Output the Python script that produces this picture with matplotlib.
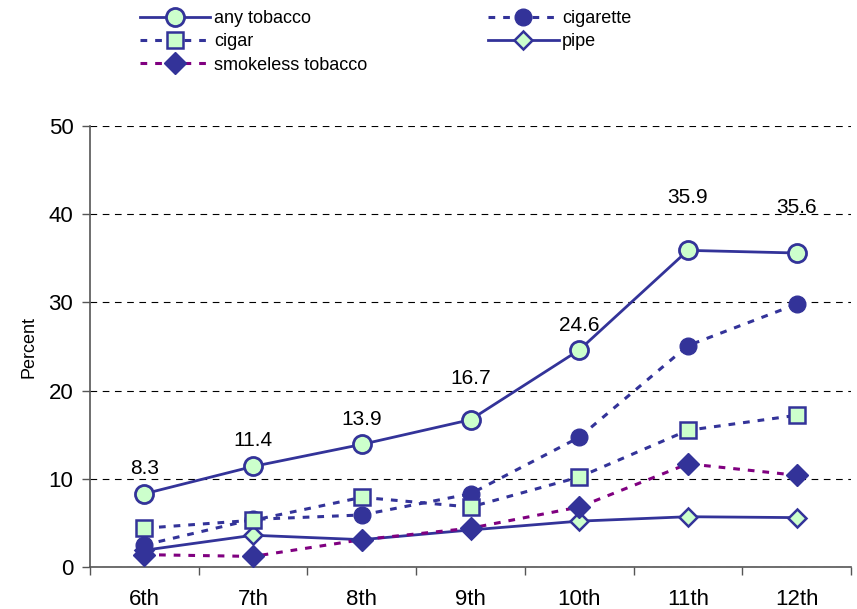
import matplotlib.pyplot as plt
import numpy as np

# ---------- Data ----------
GRADES = ["6th", "7th", "8th", "9th", "10th", "11th", "12th"]
ANY_TOBACCO = [8.3, 11.4, 13.9, 16.7, 24.6, 35.9, 35.6]
CIGARETTE = [2.5, 5.4, 5.9, 8.3, 14.7, 25.1, 29.8]
CIGAR = [4.4, 5.3, 7.9, 6.8, 10.2, 15.5, 17.2]
SMOKELESS = [1.4, 1.2, 3.1, 4.4, 6.8, 11.7, 10.4]
PIPE = [1.9, 3.6, 3.1, 4.2, 5.2, 5.7, 5.6]

# ---------- Style ----------
NAVY = "#333399"
MINT = "#CCFFCC"
PURPLE = "#800080"
DOTS = (0, (2.2, 2.6))
LABEL_OFFSETS = [2.9, 2.9, 2.8, 4.7, 2.8, 6.0, 5.2]

plt.rcParams["font.family"] = ["Liberation Sans", "DejaVu Sans"]

fig = plt.figure(figsize=(8.57, 6.09), dpi=100)
ax = fig.add_axes([90 / 857, 1 - 567 / 609, 761 / 857, 441 / 609])

x = np.arange(len(GRADES))

h_pipe, = ax.plot(x, PIPE, color=NAVY, lw=2, marker="D", ms=9,
                  mfc=MINT, mec=NAVY, mew=1.8, label="pipe", zorder=3)
h_smk, = ax.plot(x, SMOKELESS, color=PURPLE, lw=2.2, ls=DOTS, marker="D", ms=11,
                 mfc=NAVY, mec=NAVY, label="smokeless tobacco", zorder=4)
h_cigar, = ax.plot(x, CIGAR, color=NAVY, lw=2.2, ls=DOTS, marker="s", ms=12,
                   mfc=MINT, mec=NAVY, mew=1.8, label="cigar", zorder=5)
h_cig, = ax.plot(x, CIGARETTE, color=NAVY, lw=2.2, ls=DOTS, marker="o", ms=12,
                 mfc=NAVY, mec=NAVY, label="cigarette", zorder=4)
h_any, = ax.plot(x, ANY_TOBACCO, color=NAVY, lw=2, marker="o", ms=13,
                 mfc=MINT, mec=NAVY, mew=2, label="any tobacco", zorder=6)

for xi, v, off in zip(x, ANY_TOBACCO, LABEL_OFFSETS):
    ax.text(xi, v + off, f"{v:.1f}", ha="center", va="center", fontsize=15)

# axes
ax.set_xlim(-0.5, len(GRADES) - 0.5)
ax.set_ylim(0, 50)
ax.set_yticks(np.arange(0, 51, 10))
ax.set_xticks(x)
ax.set_xticklabels(GRADES, fontsize=16)
ax.set_xticks(np.arange(-0.5, len(GRADES), 1), minor=True)
ax.tick_params(axis="x", which="major", length=0, pad=16)
ax.tick_params(axis="x", which="minor", length=6, width=1, color="#555555")
ax.tick_params(axis="y", labelsize=16, length=6, width=1, color="#555555", pad=6)
for s in ["top", "right"]:
    ax.spines[s].set_visible(False)
for s in ["left", "bottom"]:
    ax.spines[s].set_color("#555555")
    ax.spines[s].set_linewidth(1.2)
ax.yaxis.grid(True, color="black", ls=(0, (6, 5)), lw=0.8)
ax.set_axisbelow(True)
ax.set_ylabel("Percent", fontsize=13, labelpad=8)

fig.legend(handles=[h_any, h_cigar, h_smk, h_cig, h_pipe], ncol=2,
           loc="upper left", bbox_to_anchor=(140 / 857, 1 - 10 / 609),
           frameon=False, fontsize=13, handlelength=3.9, handletextpad=0.2,
           columnspacing=6.7, labelspacing=0.35, borderpad=0, borderaxespad=0)

fig.savefig("out.png", dpi=100)
